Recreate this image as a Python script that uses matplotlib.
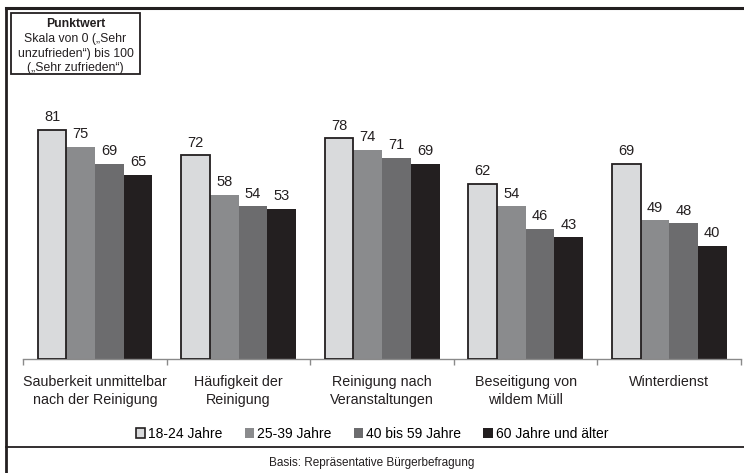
import matplotlib
matplotlib.use("Agg")
import matplotlib.pyplot as plt
from matplotlib.lines import Line2D
from matplotlib.patches import Patch, Rectangle
import numpy as np

plt.rcParams['font.family'] = ['Liberation Sans', 'DejaVu Sans']

categories = ["Sauberkeit unmittelbar\nnach der Reinigung", "Häufigkeit der\nReinigung",
              "Reinigung nach\nVeranstaltungen", "Beseitigung von\nwildem Müll", "Winterdienst"]
series_names = ["18-24 Jahre", "25-39 Jahre", "40 bis 59 Jahre", "60 Jahre und älter"]
v_18_24 = [81, 72, 78, 62, 69]
v_25_39 = [75, 58, 74, 54, 49]
v_40_59 = [69, 54, 71, 46, 48]
v_60 = [65, 53, 69, 43, 40]
series = [v_18_24, v_25_39, v_40_59, v_60]
colors = ["#d9dadc", "#8a8b8d", "#6c6c6e", "#231f20"]

W, H = 744, 473
fig = plt.figure(figsize=(W/100, H/100), dpi=100)
ax = fig.add_axes([23.3/W, (H-359)/H, (741-23.3)/W, 283/H])

x = np.arange(len(categories))
bw = 0.2
for j, vals in enumerate(series):
    pos = x + (j - 1.5) * bw
    if j == 0:
        ax.bar(pos, vals, width=bw, color=colors[j], edgecolor="#231f20", linewidth=1.3, zorder=3)
    else:
        ax.bar(pos, vals, width=bw, color=colors[j], edgecolor="none", zorder=2)
    for p, v in zip(pos, vals):
        ax.text(p, v + 2.0, str(v), ha="center", va="bottom", fontsize=10.5, color="#231f20")

ax.set_xlim(-0.5, len(categories) - 0.5)
ax.set_ylim(0, 100)
ax.set_yticks([])
for s in ["left", "right", "top"]:
    ax.spines[s].set_visible(False)
ax.spines["bottom"].set_color("#8a8a8a")
ax.spines["bottom"].set_linewidth(1.0)
ax.set_xticks(np.arange(-0.5, len(categories), 1.0), minor=False)
ax.set_xticklabels([])
ax.tick_params(axis="x", length=4, color="#8a8a8a", width=1.0)
for i, c in enumerate(categories):
    ax.text(i, -5.5, c, ha="center", va="top", fontsize=10.3, color="#231f20", linespacing=1.4)
ax.patch.set_alpha(0)

handles = [Patch(facecolor=colors[0], edgecolor="#231f20", linewidth=1.2)] + \
          [Patch(facecolor=c, edgecolor="none") for c in colors[1:]]
fig.legend(handles, series_names, loc="center", bbox_to_anchor=(372/W, (H-434)/H),
           ncol=4, frameon=False, fontsize=10, handlelength=0.7, handleheight=0.7,
           handletextpad=0.2, columnspacing=1.6)

fig.text(372/W, (H-463)/H, "Basis: Repräsentative Bürgerbefragung", ha="center", va="center",
         fontsize=8.5, color="#231f20")

# frame lines
fig.add_artist(Line2D([6/W, 6/W], [0, (H-8)/H], transform=fig.transFigure, color="#231f20", lw=2))
fig.add_artist(Line2D([6/W, 1], [(H-8)/H, (H-8)/H], transform=fig.transFigure, color="#231f20", lw=2.2))
fig.add_artist(Line2D([6/W, 1], [(H-447)/H, (H-447)/H], transform=fig.transFigure, color="#231f20", lw=1.3))

# info box
fig.add_artist(Rectangle((11/W, (H-74)/H), 129/W, 61/H, transform=fig.transFigure,
                         facecolor="white", edgecolor="#231f20", lw=1.3))
fs = 8.8
fig.text(75.5/W, (H-24)/H, "Punktwert", ha="center", va="center", fontsize=fs,
         fontweight="bold", color="#231f20")
fig.text(75.5/W, (H-39)/H, "Skala von 0 („Sehr", ha="center", va="center", fontsize=fs, color="#231f20")
fig.text(75.5/W, (H-54)/H, "unzufrieden“) bis 100", ha="center", va="center", fontsize=fs, color="#231f20")
fig.text(75.5/W, (H-68)/H, "(„Sehr zufrieden“)", ha="center", va="center", fontsize=fs, color="#231f20")

fig.savefig("out.png", dpi=100)
